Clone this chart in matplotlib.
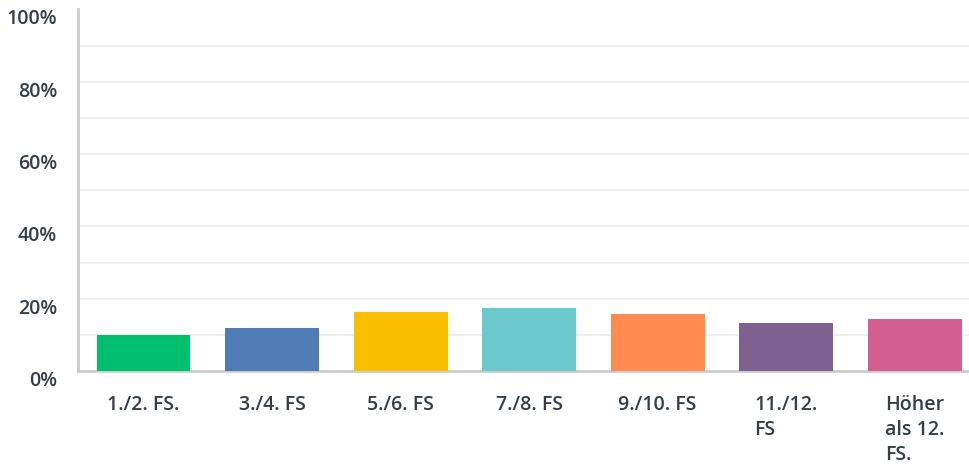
import matplotlib
matplotlib.use('Agg')
import matplotlib.pyplot as plt
import numpy as np

# Data (percent of respondents)
categories = ['1./2. FS.', '3./4. FS', '5./6. FS', '7./8. FS', '9./10. FS', '11./12.\nFS', 'Höher\nals 12.\nFS.']
values = [9.9, 11.9, 16.3, 17.4, 15.7, 13.3, 14.4]
colors = ['#00bf6f', '#507cb6', '#f9be00', '#6bc8cd', '#ff8b4f', '#7f5f90', '#d25f90']
y_ticks = [0, 20, 40, 60, 80, 100]
y_tick_labels = ['0%', '20%', '40%', '60%', '80%', '100%']
grid_levels = [10, 20, 30, 40, 50, 60, 70, 80, 90]

text_color = '#333e48'
plt.rcParams['font.family'] = ['Open Sans', 'DejaVu Sans']

fig = plt.figure(figsize=(9.7, 4.67), dpi=100)
ax = fig.add_axes([78 / 970, 96 / 467, 1 - 78 / 970, (371 - 9.4) / 467])

x = np.arange(len(categories))
ax.bar(x, values, width=0.73, color=colors, zorder=3)

ax.set_xlim(-0.51, 6.43)
ax.set_ylim(0, 100)

# light grid every 10 %, no line at the top
for g in grid_levels:
    ax.axhline(g, color='#ececec', linewidth=1.3, zorder=0)

ax.set_yticks(y_ticks)
ax.set_yticklabels(y_tick_labels, fontsize=14, fontweight='semibold', color=text_color)
ax.tick_params(axis='y', length=0, pad=15)
for lbl in ax.get_yticklabels():
    lbl.set_va('top')

ax.set_xticks(x)
ax.set_xticklabels(categories, fontsize=14, fontweight='semibold', color=text_color,
                   linespacing=1.35)
for lbl in ax.get_xticklabels():
    lbl.set_multialignment('left')
ax.tick_params(axis='x', length=0, pad=17)

for side in ['top', 'right']:
    ax.spines[side].set_visible(False)
ax.spines['left'].set_color('#cccccc')
ax.spines['left'].set_linewidth(2)
ax.spines['bottom'].set_color('#cccccc')
ax.spines['bottom'].set_linewidth(2)

fig.savefig('out.png', dpi=100)
